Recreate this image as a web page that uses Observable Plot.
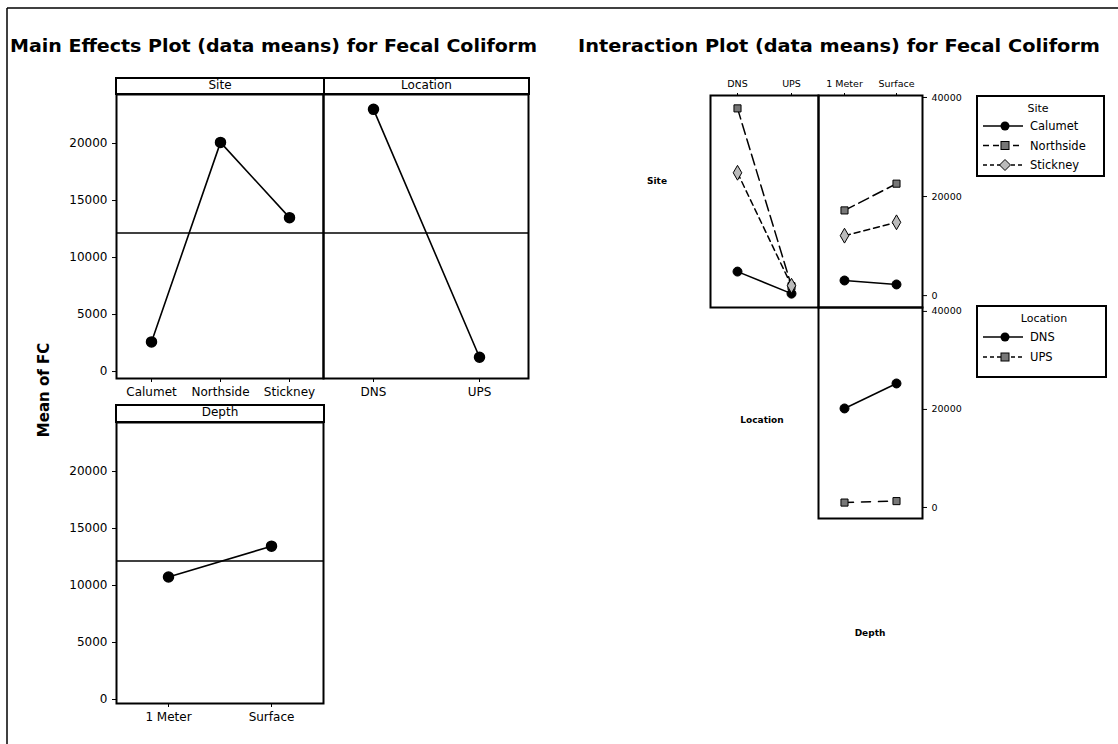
<!DOCTYPE html>
<html>
<head>
<meta charset="utf-8">
<script src="https://cdn.jsdelivr.net/npm/d3@7"></script>
<script src="https://cdn.jsdelivr.net/npm/@observablehq/plot@0.6"></script>
<style>
  body { margin: 0; background: #fff; }
  #root { position: relative; width: 1118px; height: 744px; overflow: hidden; font-family: "DejaVu Sans", sans-serif; color: #000; }
  .hdr { position: absolute; box-sizing: border-box; border: 2px solid #000; font-size: 12px; text-align: center; line-height: 13px; background: #fff; }
  .lbl { position: absolute; font-weight: bold; font-size: 9px; }
  .legend { position: absolute; box-sizing: border-box; border: 2px solid #000; background: #fff; font-size: 11.5px; }
</style>
</head>
<body>
<div id="root"></div>
<script>
// ---------- data ----------
const mainTitle = "Main Effects Plot (data means) for Fecal Coliform";
const interTitle = "Interaction Plot (data means) for Fecal Coliform";
const yTitle = "Mean of FC";

const sites = ["Calumet", "Northside", "Stickney"];
const locations = ["DNS", "UPS"];
const depths = ["1 Meter", "Surface"];

const siteMeans = [2600, 20100, 13500];
const locationMeans = [23000, 1250];
const depthMeans = [10750, 13450];
const grandMean = 12150;
const mainTicks = [0, 5000, 10000, 15000, 20000];

// interaction means
const calumetByLocation = [4850, 400];
const northsideByLocation = [37800, 1900];
const stickneyByLocation = [24800, 2000];
const calumetByDepth = [3050, 2250];
const northsideByDepth = [17200, 22600];
const stickneyByDepth = [12100, 14800];
const dnsByDepth = [20200, 25300];
const upsByDepth = [1000, 1300];
const interTicks = [0, 20000, 40000];

// ---------- helpers ----------
const root = document.getElementById("root");
const fmt = d3.format("d");
const baseStyle = {background: "transparent", overflow: "visible", fontFamily: "DejaVu Sans, sans-serif", color: "black"};

function place(el, left, top) {
  el.style.position = "absolute";
  el.style.left = left + "px";
  el.style.top = top + "px";
  root.appendChild(el);
}
function rows(cats, vals) { return cats.map((c, i) => ({x: c, y: vals[i]})); }

// ---------- frame & titles ----------
const deco = document.createElementNS("http://www.w3.org/2000/svg", "svg");
deco.setAttribute("width", 1118); deco.setAttribute("height", 744);
deco.style.position = "absolute"; deco.style.left = "0px"; deco.style.top = "0px";
deco.innerHTML = `
  <line x1="7" y1="8" x2="1118" y2="8" stroke="#000" stroke-width="1.5"/>
  <line x1="7" y1="8" x2="7" y2="744" stroke="#000" stroke-width="1.5"/>
  <text x="10" y="52" font-family="DejaVu Sans" font-weight="bold" font-size="18" textLength="527" lengthAdjust="spacingAndGlyphs">${mainTitle}</text>
  <text x="578" y="52" font-family="DejaVu Sans" font-weight="bold" font-size="18" textLength="522" lengthAdjust="spacingAndGlyphs">${interTitle}</text>
  <text transform="translate(49,390) rotate(-90)" text-anchor="middle" font-family="DejaVu Sans" font-weight="bold" font-size="15">${yTitle}</text>
`;
root.appendChild(deco);

// ---------- main effects ----------
function mainPanel(cats, vals, yDomain, withY, width, padding) {
  const ml = withY ? 50 : 1;
  return Plot.plot({
    width: ml + width + 1,
    height: 1 + (yDomain.h) + 28,
    marginLeft: ml, marginRight: 1, marginTop: 1, marginBottom: 28,
    style: {...baseStyle, fontSize: "12px"},
    x: {type: "point", domain: cats, padding, label: null, tickSize: 4, axis: "bottom"},
    y: {domain: yDomain.d, label: null, ticks: mainTicks, tickFormat: fmt, tickSize: 4, axis: withY ? "left" : null},
    marks: [
      Plot.ruleY([grandMean], {stroke: "black", strokeWidth: 1.5}),
      Plot.line(rows(cats, vals), {x: "x", y: "y", stroke: "black", strokeWidth: 1.6}),
      Plot.dot(rows(cats, vals), {x: "x", y: "y", r: 5, fill: "black", stroke: "black"}),
      Plot.frame({stroke: "black", strokeWidth: 2})
    ]
  });
}

place(mainPanel(sites, siteMeans, {d: [-610, 24300], h: 284}, true, 207, 0.5), 66, 93);
place(mainPanel(locations, locationMeans, {d: [-610, 24300], h: 284}, false, 205, 0.46), 322, 93);
place(mainPanel(depths, depthMeans, {d: [-350, 24300], h: 281}, true, 207, 0.5), 66, 421);

function header(text, left, top, width, height) {
  const d = document.createElement("div");
  d.className = "hdr"; d.textContent = text;
  d.style.left = left + "px"; d.style.top = top + "px";
  d.style.width = width + "px"; d.style.height = height + "px";
  root.appendChild(d);
}
header("Site", 115, 77, 210, 18);
header("Location", 323, 77, 207, 18);
header("Depth", 115, 404, 210, 19);

// ---------- interaction ----------
const siteStyles = [
  {dash: null, symbol: "circle", r: 4.5, fill: "black"},
  {dash: "11,5", symbol: "square", r: 4, fill: "#777"},
  {dash: "6,4", symbol: "diamond", r: 4.5, fill: "#bbb"}
];
const locStyles = [
  {dash: null, symbol: "circle", r: 4.5, fill: "black"},
  {dash: "9,8", symbol: "square", r: 4, fill: "#777"}
];

function seriesMarks(cats, series, styles) {
  const m = [];
  series.forEach((vals, i) => {
    const s = styles[i];
    m.push(Plot.line(rows(cats, vals), {x: "x", y: "y", stroke: "black", strokeWidth: 1.5, strokeDasharray: s.dash || undefined}));
  });
  series.forEach((vals, i) => {
    const s = styles[i];
    m.push(Plot.dot(rows(cats, vals), {x: "x", y: "y", symbol: s.symbol, r: s.r, fill: s.fill, stroke: "black", strokeWidth: 1}));
  });
  return m;
}

function interPanel({cats, series, styles, width, height, yDomain, topAxis, rightAxis}) {
  const mt = topAxis ? 20 : 1;
  const mr = rightAxis ? 45 : 1;
  return Plot.plot({
    width: 1 + width + mr,
    height: mt + height + 1,
    marginLeft: 1, marginRight: mr, marginTop: mt, marginBottom: 1,
    style: {...baseStyle, fontSize: "9.5px"},
    x: {type: "point", domain: cats, padding: 0.5, label: null, tickSize: 3, axis: topAxis ? "top" : null},
    y: {domain: yDomain, label: null, ticks: interTicks, tickFormat: fmt, tickSize: 4, axis: rightAxis ? "right" : null},
    marks: [
      ...seriesMarks(cats, series, styles),
      Plot.frame({stroke: "black", strokeWidth: 2})
    ]
  });
}

place(interPanel({cats: locations, series: [calumetByLocation, northsideByLocation, stickneyByLocation], styles: siteStyles,
  width: 108, height: 212, yDomain: [-2400, 40400], topAxis: true, rightAxis: false}), 709, 75);
place(interPanel({cats: depths, series: [calumetByDepth, northsideByDepth, stickneyByDepth], styles: siteStyles,
  width: 104, height: 212, yDomain: [-2400, 40400], topAxis: true, rightAxis: true}), 817, 75);
place(interPanel({cats: depths, series: [dnsByDepth, upsByDepth], styles: locStyles,
  width: 104, height: 211, yDomain: [-2250, 40800], topAxis: false, rightAxis: true}), 817, 306);

function rowLabel(text, cx, cy) {
  const d = document.createElement("div");
  d.className = "lbl"; d.textContent = text;
  d.style.left = cx + "px"; d.style.top = cy + "px";
  d.style.transform = "translate(-50%,-50%)";
  root.appendChild(d);
}
rowLabel("Site", 657, 181);
rowLabel("Location", 762, 420);
rowLabel("Depth", 870, 633);

// ---------- legends ----------
function legend(title, names, styles, left, top, width, height, titleX, firstY, step) {
  const box = document.createElement("div");
  box.className = "legend";
  box.style.left = left + "px"; box.style.top = top + "px";
  box.style.width = width + "px"; box.style.height = height + "px";
  let svg = `<svg width="${width}" height="${height}" style="position:absolute;left:-2px;top:-2px;overflow:visible">`;
  svg += `<text x="${titleX}" y="${firstY - step + 5}" text-anchor="middle" font-family="DejaVu Sans" font-size="11">${title}</text>`;
  names.forEach((n, i) => {
    const s = styles[i];
    const y = firstY + i * step;
    const dash = s.dash ? `stroke-dasharray="${s.dash === "11,5" ? "6,4" : "4,3"}"` : "";
    svg += `<line x1="7" y1="${y}" x2="47" y2="${y}" stroke="#000" stroke-width="1.4" ${dash}/>`;
    if (s.symbol === "circle") svg += `<circle cx="29" cy="${y}" r="4.5" fill="#000"/>`;
    else if (s.symbol === "square") svg += `<rect x="25" y="${y - 4}" width="8" height="8" fill="${s.fill}" stroke="#000"/>`;
    else svg += `<path d="M29,${y - 5.5}L34.5,${y}L29,${y + 5.5}L23.5,${y}Z" fill="${s.fill}" stroke="#000"/>`;
    svg += `<text x="54" y="${y + 4}" font-family="DejaVu Sans" font-size="11.5">${n}</text>`;
  });
  svg += `</svg>`;
  box.innerHTML = svg;
  root.appendChild(box);
}
legend("Site", sites, siteStyles, 976, 95, 129, 82, 62, 31, 19.5);
legend("Location", locations, locStyles, 976, 305, 131, 73, 68, 32, 20);
</script>
</body>
</html>
